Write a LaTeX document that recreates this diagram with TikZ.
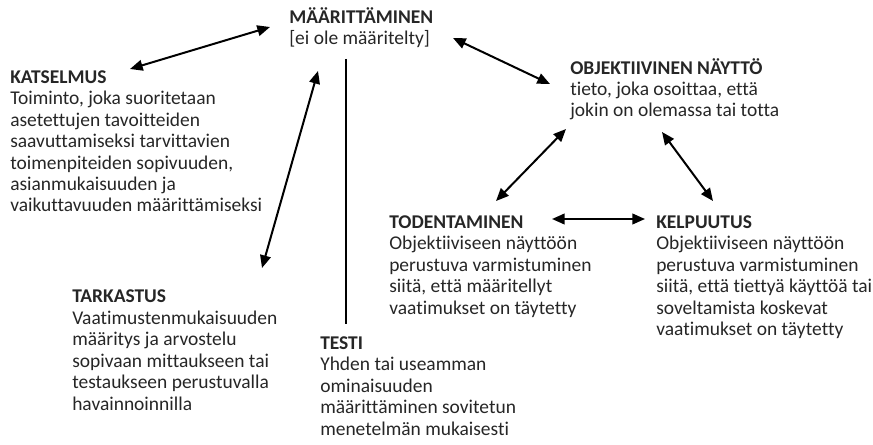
\documentclass[tikz,border=0pt]{standalone}
\usepackage{fontspec}
\setmainfont{Carlito}[Ligatures=CommonOff]
\usetikzlibrary{arrows.meta}
\definecolor{ink}{RGB}{38,38,38}
\begin{document}
\begin{tikzpicture}[x=0.75pt,y=-0.75pt,
  % each term node is placed at the baseline of its last line
  term/.style={anchor=base west,inner sep=0pt,align=left,text=ink,
    font=\fontsize{14.6pt}{16.1pt}\selectfont},
  link/.style={line width=1.5pt,draw=black,
    {Triangle[length=9.5pt,width=8pt]}-{Triangle[length=9.5pt,width=8pt]}},
  bar/.style={line width=2.2pt,draw=black},
]
\useasboundingbox (0,0) rectangle (873,445);

% terms and their definitions
\node[term] (maar) at (289,44.5) {\textbf{MÄÄRITTÄMINEN}\\{[}ei ole määritelty{]}};
\node[term] (kats) at (10,212) {\textbf{KATSELMUS}\\Toiminto, joka suoritetaan\\asetettujen tavoitteiden\\saavuttamiseksi tarvittavien\\toimenpiteiden sopivuuden,\\asianmukaisuuden ja\\vaikuttavuuden määrittämiseksi};
\node[term] (obj) at (570,117) {\textbf{OBJEKTIIVINEN NÄYTTÖ}\\tieto, joka osoittaa, että\\jokin on olemassa tai totta};
\node[term] (tod) at (389,314) {\textbf{TODENTAMINEN}\\Objektiiviseen näyttöön\\perustuva varmistuminen\\siitä, että määritellyt\\vaatimukset on täytetty};
\node[term] (kelp) at (656,335.5) {\textbf{KELPUUTUS}\\Objektiiviseen näyttöön\\perustuva varmistuminen\\siitä, että tiettyä käyttöä tai\\soveltamista koskevat\\vaatimukset on täytetty};
\node[term] (tark) at (72,410) {\textbf{TARKASTUS}\\Vaatimustenmukaisuuden\\määritys ja arvostelu\\sopivaan mittaukseen tai\\testaukseen perustuvalla\\havainnoinnilla};
\node[term] (testi) at (320,435) {\textbf{TESTI}\\Yhden tai useamman\\ominaisuuden\\määrittäminen sovitetun\\menetelmän mukaisesti};

% connector end points
\coordinate (maar-w)  at (270,27);
\coordinate (kats-ne) at (130,69);
\coordinate (maar-s)  at (318,71);
\coordinate (tark-n)  at (262,268);
\coordinate (maar-e)  at (453,38);
\coordinate (obj-w)   at (550,84);
\coordinate (obj-sw)  at (566,129);
\coordinate (tod-n)   at (496,201);
\coordinate (obj-s)   at (662,132);
\coordinate (kelp-n)  at (713,201);
\coordinate (tod-e)   at (552,219);
\coordinate (kelp-w)  at (645,219);
\coordinate (bar-top) at (346,59);
\coordinate (bar-bot) at (346,324);

% connectors
\draw[link] (kats-ne) -- (maar-w);
\draw[link] (tark-n) -- (maar-s);
\draw[link] (maar-e) -- (obj-w);
\draw[link] (obj-sw) -- (tod-n);
\draw[link] (obj-s) -- (kelp-n);
\draw[link] (tod-e) -- (kelp-w);
\draw[bar] (bar-top) -- (bar-bot);
\end{tikzpicture}
\end{document}
